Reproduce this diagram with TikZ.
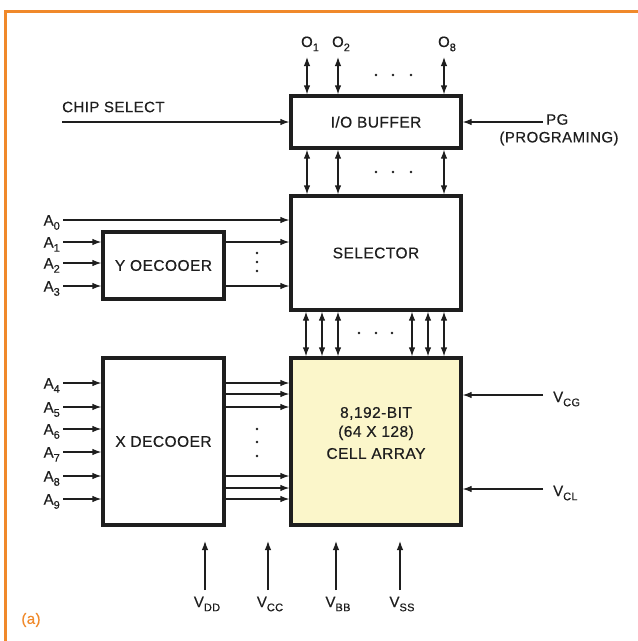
\documentclass[tikz,border=0pt]{standalone}
\usepackage{fontspec}
\setmainfont{Liberation Sans}[FakeBold=0.5, LetterSpace=3]
\usetikzlibrary{arrows.meta}
\definecolor{ink}{HTML}{1E1E1E}
\definecolor{frameor}{HTML}{F0892A}
\definecolor{cellfill}{HTML}{FBF6CA}
\newcommand\lsub[1]{\raisebox{-0.28em}{\fontsize{11}{11}\selectfont #1}}
\begin{document}
\begin{tikzpicture}[x=1pt,y=-1pt,
 box/.style={draw=ink, line width=3.2pt, inner sep=0pt, font=\fontsize{15.5}{15.5}\selectfont, text=ink},
 lab/.style={font=\fontsize{15}{15}\selectfont, text=ink, inner sep=0pt},
 arr/.style={-{Latex[length=9pt,width=6.5pt]}, line width=1.2pt, draw=ink},
 bi/.style={{Latex[length=9pt,width=6.5pt]}-{Latex[length=9pt,width=6.5pt]}, line width=1.2pt, draw=ink},
 dotm/.style={circle, fill=ink, inner sep=0pt, minimum size=2.8pt}]
\useasboundingbox (0,0) rectangle (638,641);
% orange frame
\draw[frameor, line width=3pt] (5,641) -- (5,11) -- (638,11);

% blocks
\node[box, minimum width=170pt, minimum height=52pt] (io) at (376,122) {I/O BUFFER};
\node[box, minimum width=170pt, minimum height=114pt] (sel) at (376,253) {SELECTOR};
\node[box, fill=cellfill, minimum width=170pt, minimum height=167pt] (cell) at (376,441.5) {};
\node[align=center, inner sep=0pt, text=ink, font=\fontsize{15.5}{19}\selectfont] (celltxt) at (376,433)
  {8,192-BIT\\(64 X 128)\\[3pt]CELL ARRAY};
\node[box, minimum width=121pt, minimum height=67pt] (ydec) at (163.5,265.5) {Y OECOOER};
\node[box, minimum width=121pt, minimum height=167pt] (xdec) at (163.5,441.5) {X DECOOER};

% outputs
\foreach \n/\x/\s in {o1/307/1, o2/338/2, o8/444/8}{
  \coordinate (\n) at (\x,57);
  \draw[bi] (\n) -- (\n |- io.north);
  \draw[bi] (io.south -| \n) -- (sel.north -| \n);
  \node[lab, anchor=base] (l\n) at (\x+3,47) {O\lsub{\s}};
}
\foreach \x [count=\i] in {376,393,411}{
  \node[dotm] (td\i) at (\x,75) {};
  \node[dotm] (md\i) at (\x,172) {};
}

% chip select
\coordinate (csl) at (62,122);
\draw[arr] (csl) -- (csl -| io.west);
\node[lab, anchor=west] (cst) at (62,107) {CHIP SELECT};

% PG
\coordinate (pgl) at (543,122);
\draw[arr] (pgl) -- (pgl -| io.east);
\node[lab, anchor=west] (pg) at (546,119.5) {PG};
\node[lab] (prog) at (559,138.5) {(PROGRAMING)};

% selector <-> cell
\foreach \x [count=\i] in {306,322,338,412,428,444}{
  \coordinate (c\i) at (\x,0);
  \draw[bi] (sel.south -| c\i) -- (cell.north -| c\i);
}
\foreach \x [count=\i] in {359,376,392}{
  \node[dotm] (bd\i) at (\x,333) {};
}

% A0
\coordinate (pa0) at (63,220);
\draw[arr] (pa0) -- (pa0 -| sel.west);
\node[lab, anchor=base east] (la0) at (60,225.5) {A\lsub{0}};

% A1-A3
\foreach \s/\y in {1/242, 2/263, 3/286}{
  \coordinate (pa\s) at (63,\y);
  \draw[arr] (pa\s) -- (pa\s -| ydec.west);
  \node[lab, anchor=base east] (la\s) at (60,\y+5.5) {A\lsub{\s}};
}
% Y decoder outputs
\foreach \y [count=\i] in {242,286}{
  \coordinate (yo\i) at (0,\y);
  \draw[arr] (ydec.east |- yo\i) -- (sel.west |- yo\i);
}
\foreach \y [count=\i] in {253,262,271}{
  \node[dotm] (yd\i) at (257,\y) {};
}

% A4-A9
\foreach \s/\y in {4/383, 5/407, 6/429, 7/452, 8/476, 9/499}{
  \coordinate (pa\s) at (63,\y);
  \draw[arr] (pa\s) -- (pa\s -| xdec.west);
  \node[lab, anchor=base east] (la\s) at (60,\y+5.5) {A\lsub{\s}};
}
% X decoder outputs
\foreach \y [count=\i] in {383,394,407,476,488,499}{
  \coordinate (xo\i) at (0,\y);
  \draw[arr] (xdec.east |- xo\i) -- (cell.west |- xo\i);
}
\foreach \y [count=\i] in {429,442,456}{
  \node[dotm] (xd\i) at (257,\y) {};
}

% VCG, VCL
\coordinate (vcg) at (543,395);
\draw[arr] (vcg) -- (vcg -| cell.east);
\node[lab, anchor=base west] (lvcg) at (553,402) {V\lsub{CG}};
\coordinate (vcl) at (543,489);
\draw[arr] (vcl) -- (vcl -| cell.east);
\node[lab, anchor=base west] (lvcl) at (553,496) {V\lsub{CL}};

% bottom supplies
\foreach \n/\x/\s in {dd/205/DD, cc/268/CC, bb/336/BB, ss/400/SS}{
  \coordinate (\n b) at (\x,590);
  \coordinate (\n t) at (\x,541);
  \draw[arr] (\n b) -- (\n t);
  \node[lab, anchor=base] (l\n) at (\x+2,607) {V\lsub{\s}};
}

\node[text=frameor, font=\fontsize{15}{15}\selectfont, inner sep=0pt] (fig) at (31,620) {(a)};
\end{tikzpicture}
\end{document}
